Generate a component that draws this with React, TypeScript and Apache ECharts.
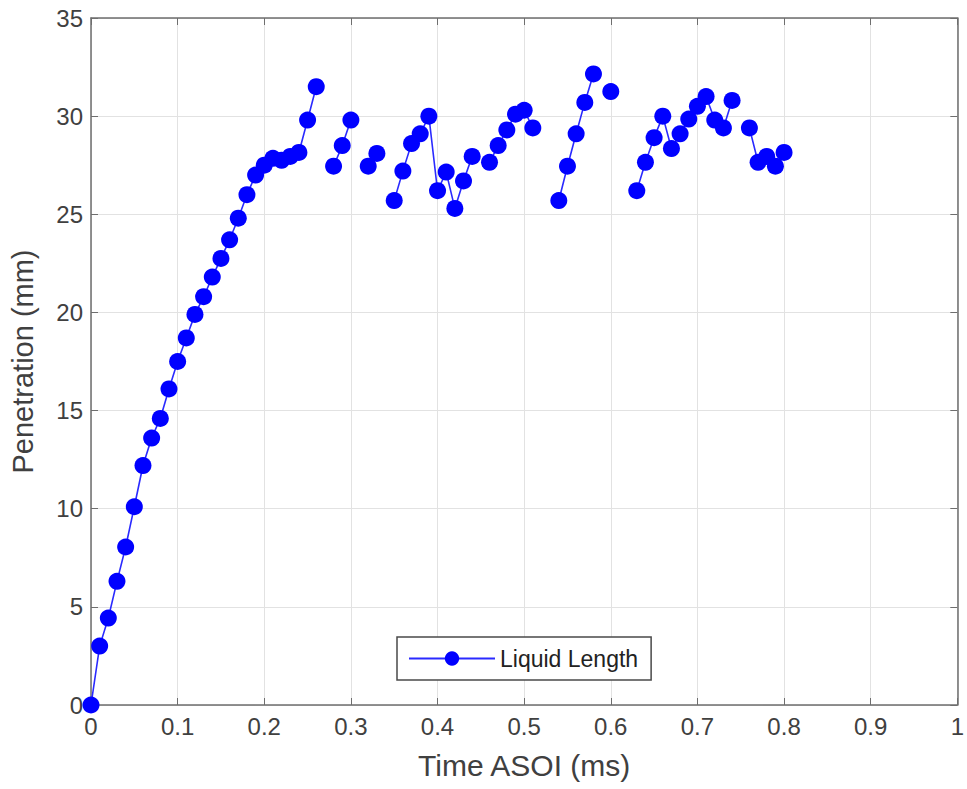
import React, { useEffect, useRef } from "react";
import * as echarts from "echarts";

const times = [
  0, 0.01, 0.02, 0.03, 0.04, 0.05, 0.06, 0.07, 0.08, 0.09,
  0.1, 0.11, 0.12, 0.13, 0.14, 0.15, 0.16, 0.17, 0.18, 0.19,
  0.2, 0.21, 0.22, 0.23, 0.24, 0.25, 0.26, 0.27, 0.28, 0.29,
  0.3, 0.31, 0.32, 0.33, 0.34, 0.35, 0.36, 0.37, 0.38, 0.39,
  0.4, 0.41, 0.42, 0.43, 0.44, 0.45, 0.46, 0.47, 0.48, 0.49,
  0.5, 0.51, 0.52, 0.53, 0.54, 0.55, 0.56, 0.57, 0.58, 0.59,
  0.6, 0.61, 0.62, 0.63, 0.64, 0.65, 0.66, 0.67, 0.68, 0.69,
  0.7, 0.71, 0.72, 0.73, 0.74, 0.75, 0.76, 0.77, 0.78, 0.79, 0.8,
];

const liquidLength: (number | null)[] = [
  0, 3.0, 4.43, 6.3, 8.05, 10.1, 12.2, 13.6, 14.6, 16.1,
  17.5, 18.7, 19.9, 20.8, 21.8, 22.75, 23.7, 24.8, 26.0, 27.0,
  27.5, 27.85, 27.75, 27.95, 28.15, 29.8, 31.5, null, 27.45, 28.5,
  29.8, null, 27.45, 28.1, null, 25.7, 27.2, 28.6, 29.1, 30.0,
  26.2, 27.15, 25.3, 26.7, 27.95, null, 27.65, 28.5, 29.3, 30.1,
  30.3, 29.4, null, null, 25.7, 27.45, 29.1, 30.7, 32.15, null,
  31.25, null, null, 26.2, 27.65, 28.9, 30.0, 28.35, 29.1, 29.85,
  30.5, 31.0, 29.8, 29.4, 30.8, null, 29.4, 27.65, 27.95, 27.45, 28.15,
];

const xTicks = [0, 0.1, 0.2, 0.3, 0.4, 0.5, 0.6, 0.7, 0.8, 0.9, 1];

export default function App() {
  const ref = useRef<HTMLDivElement>(null);

  useEffect(() => {
    if (!ref.current) return;
    const chart = echarts.init(ref.current, null, { renderer: "svg" });
    const axisColor = "#6e6e6e";
    const labelColor = "#404040";
    const font = "Liberation Sans, Arial, sans-serif";
    const data = times.map((t, i) => [t, liquidLength[i]]);
    chart.setOption({
      animation: false,
      backgroundColor: "#ffffff",
      textStyle: { fontFamily: font },
      grid: { left: 90, right: 7, top: 18, bottom: 84, containLabel: false },
      xAxis: [
        {
          type: "value",
          min: 0,
          max: 1,
          interval: 0.1,
          name: "Time ASOI (ms)",
          nameLocation: "middle",
          nameGap: 45,
          nameTextStyle: { fontSize: 30, color: labelColor, fontFamily: font },
          axisLine: { show: true, onZero: false, lineStyle: { color: axisColor, width: 1.5 } },
          axisTick: { show: true, inside: true, length: 7, lineStyle: { color: axisColor } },
          axisLabel: {
            fontSize: 24,
            color: labelColor,
            margin: 9,
            fontFamily: font,
            formatter: (v: number) => {
              const m = xTicks.find((t) => Math.abs(t - v) < 1e-9);
              return m === undefined ? "" : String(m);
            },
          },
          splitLine: { show: true, lineStyle: { color: "#e2e2e2", width: 1 } },
        },
        {
          type: "value",
          position: "top",
          min: 0,
          max: 1,
          interval: 0.1,
          axisLine: { show: true, onZero: false, lineStyle: { color: axisColor, width: 1.5 } },
          axisTick: { show: true, inside: true, length: 7, lineStyle: { color: axisColor } },
          axisLabel: { show: false },
          splitLine: { show: false },
        },
      ],
      yAxis: [
        {
          type: "value",
          min: 0,
          max: 35,
          interval: 5,
          name: "Penetration (mm)",
          nameLocation: "middle",
          nameGap: 54,
          nameTextStyle: { fontSize: 29, color: labelColor, fontFamily: font },
          axisLine: { show: true, onZero: false, lineStyle: { color: axisColor, width: 1.5 } },
          axisTick: { show: true, inside: true, length: 7, lineStyle: { color: axisColor } },
          axisLabel: { fontSize: 24, color: labelColor, margin: 8, fontFamily: font },
          splitLine: { show: true, lineStyle: { color: "#e2e2e2", width: 1 } },
        },
        {
          type: "value",
          position: "right",
          min: 0,
          max: 35,
          interval: 5,
          axisLine: { show: true, onZero: false, lineStyle: { color: axisColor, width: 1.5 } },
          axisTick: { show: true, inside: true, length: 7, lineStyle: { color: axisColor } },
          axisLabel: { show: false },
          splitLine: { show: false },
        },
      ],
      legend: {
        show: true,
        left: 397,
        bottom: 109,
        orient: "horizontal",
        backgroundColor: "#ffffff",
        borderColor: "#4a4a4a",
        borderWidth: 1.5,
        borderRadius: 0,
        padding: [10, 13, 10, 11],
        itemWidth: 86,
        itemHeight: 18,
        itemGap: 6,
        textStyle: { fontSize: 23, color: "#222222", fontFamily: font },
        data: [{ name: "Liquid Length" }],
      },
      series: [
        {
          name: "Liquid Length",
          type: "line",
          xAxisIndex: 0,
          yAxisIndex: 0,
          data,
          connectNulls: false,
          symbol: "circle",
          symbolSize: 17,
          showSymbol: true,
          itemStyle: { color: "#0000ff" },
          lineStyle: { color: "#2a2aff", width: 1.6 },
        },
      ],
    });
    return () => chart.dispose();
  }, []);

  return (
    <div
      ref={ref}
      style={{ position: "fixed", left: 0, top: 0, width: 967, height: 789 }}
    />
  );
}
